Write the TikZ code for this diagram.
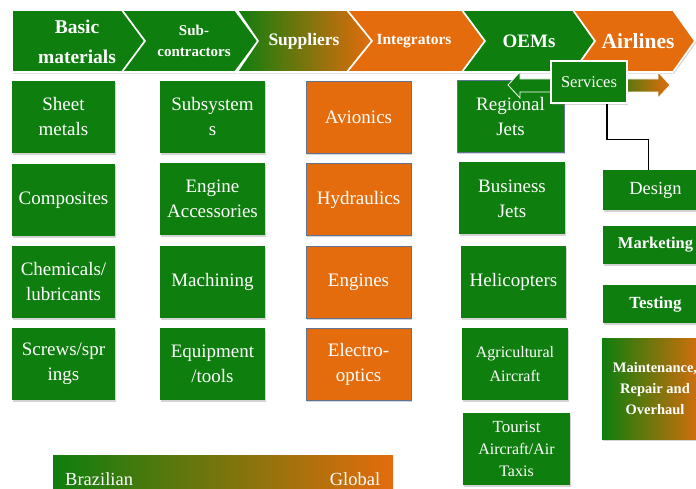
\documentclass[tikz,border=0pt]{standalone}
\usepackage{fontspec}
\setmainfont{Liberation Serif}
\usetikzlibrary{shadows}

\definecolor{grn}{RGB}{14,126,14}
\definecolor{org}{RGB}{228,108,12}
\definecolor{edgeblue}{RGB}{95,115,150}

% green until just past the middle, then into orange
\pgfdeclarehorizontalshading{svcshade}{100bp}{color(0bp)=(grn); color(25bp)=(grn); color(54bp)=(grn); color(75bp)=(org); color(100bp)=(org)}

\begin{document}
\begin{tikzpicture}[x=1pt,y=-1pt,
  softshadow/.style={drop shadow={shadow xshift=1.2pt,shadow yshift=-1.6pt,opacity=.35}},
  chev/.style={draw=white,line width=1.6pt,line join=miter,softshadow},
  chevlab/.style={text=white,align=center,inner sep=0pt},
  box/.style={minimum height=72pt,inner sep=0pt,text=white,align=center,
              font=\fontsize{19}{25}\selectfont,softshadow},
  gbox/.style={box,fill=grn},
  obox/.style={box,fill=org,draw=edgeblue,line width=.6pt},
  sbox/.style={minimum width=105pt,inner sep=0pt,text=white,align=center,softshadow},
  lab/.style={text=white,inner sep=0pt,font=\fontsize{18.5}{22}\selectfont},
]
\useasboundingbox (0,0) rectangle (696,489);
\clip (0,0) rectangle (696,489);

% ---- value chain chevrons ----
\path[chev,fill=grn] (12,10) -- (122,10) -- (145,41) -- (122,72) -- (12,72) -- cycle;
\path[chev,fill=grn] (122,10) -- (235,10) -- (258,41) -- (235,72) -- (122,72) -- (145,41) -- cycle;
\path[chev,left color=grn,right color=org] (237,10) -- (347,10) -- (372,41) -- (347,72) -- (237,72) -- (258,41) -- cycle;
\path[chev,fill=org] (347,10) -- (462,10) -- (485,41) -- (462,72) -- (347,72) -- (372,41) -- cycle;
\path[chev,fill=grn] (462,10) -- (573,10) -- (595,41) -- (573,72) -- (462,72) -- (485,41) -- cycle;
\path[chev,fill=org] (573,10) -- (673,10) -- (695,41) -- (673,72) -- (573,72) -- (595,41) -- cycle;

\node[chevlab,font=\bfseries\fontsize{19.5}{30}\selectfont] (basic) at (77,42) {Basic\\materials};
\node[chevlab,font=\bfseries\fontsize{15}{21}\selectfont] (subc) at (194,41) {Sub-\\contractors};
\node[chevlab,font=\bfseries\fontsize{17.5}{21}\selectfont] (suppl) at (304,41) {Suppliers};
\node[chevlab,font=\bfseries\fontsize{15.5}{21}\selectfont] (integ) at (414,41) {Integrators};
\node[chevlab,font=\bfseries\fontsize{19}{21}\selectfont] (oems) at (529,41) {OEMs};
\node[chevlab,font=\bfseries\fontsize{21.5}{24}\selectfont] (airl) at (638,41) {Airlines};

% ---- basic materials ----
\node[gbox,minimum width=103pt] (sheet) at (63.5,117) {Sheet\\metals};
\node[gbox,minimum width=103pt] (comp) at (63.5,200) {Composites};
\node[gbox,minimum width=103pt] (chem) at (63.5,282) {Chemicals/\\lubricants};
\node[gbox,minimum width=103pt] (screw) at (63.5,364) {Screws/spr\\ings};

% ---- sub-contractors ----
\node[gbox,minimum width=105pt] (subsys) at (212.5,117) {Subsystem\\s};
\node[gbox,minimum width=105pt] (engacc) at (212.5,199) {Engine\\Accessories};
\node[gbox,minimum width=105pt] (mach) at (212.5,282) {Machining};
\node[gbox,minimum width=105pt] (equip) at (212.5,364) {Equipment\\/tools};

% ---- integrators ----
\node[obox,minimum width=105pt] (avio) at (358.5,117) {Avionics};
\node[obox,minimum width=105pt] (hydr) at (358.5,199.5) {Hydraulics};
\node[obox,minimum width=105pt] (engs) at (358.5,282) {Engines};
\node[obox,minimum width=105pt] (elec) at (358.5,364) {Electro-\\optics};

% ---- OEMs ----
\node[gbox,draw=edgeblue,line width=.6pt,minimum width=107pt] (regj) at (510.5,116.5) {Regional\\Jets};
\node[gbox,minimum width=106pt] (busj) at (512,198.5) {Business\\Jets};
\node[gbox,minimum width=105pt] (heli) at (513.5,282) {Helicopters};
\node[gbox,minimum width=106pt,font=\fontsize{16}{24}\selectfont] (agri) at (515,364) {Agricultural\\Aircraft};
\node[gbox,minimum width=107pt,font=\fontsize{16}{22}\selectfont] (tour) at (516.5,449) {{\fontsize{17}{22}\selectfont Tourist}\\Aircraft/Air\\Taxis};

% ---- services ----
\path[shading=svcshade,draw=white,line width=.8pt,line join=miter]
  (508,85) -- (520,72) -- (520,79) -- (658,79) -- (658,72) -- (670,85)
  -- (658,98) -- (658,92) -- (520,92) -- (520,98) -- cycle;
\node[fill=grn,draw=white,line width=1.2pt,minimum width=76pt,minimum height=42pt,
      inner sep=0pt,text=white,font=\fontsize{16.5}{20}\selectfont,softshadow] (svc) at (589,82) {Services};

\node[sbox,fill=grn,minimum height=40pt,font=\fontsize{18.5}{22}\selectfont] (design) at (655.5,190) {Design};
\node[sbox,fill=grn,minimum height=38pt,font=\bfseries\fontsize{16.5}{20}\selectfont] (mkt) at (655.5,245) {Marketing};
\node[sbox,fill=grn,minimum height=38pt,font=\bfseries\fontsize{17}{20}\selectfont] (test) at (655.5,304) {Testing};
\node[sbox,left color=grn,right color=org,minimum width=106pt,minimum height=101pt,
      font=\bfseries\fontsize{14.5}{21}\selectfont] (mro) at (655,388.5) {Maintenance,\\Repair and\\Overhaul};

\draw[line width=1.5pt] ([xshift=18pt]svc.south) -- ++(0,36) -| ([xshift=-7pt]design.north);

% ---- origin scale ----
\node[left color=grn,right color=org,minimum width=340pt,minimum height=42pt,
      inner sep=0pt,anchor=north west] (scale) at (53,455) {};
\node[lab,anchor=west] (braz) at ([xshift=12pt,yshift=-3pt]scale.west) {Brazilian};
\node[lab,anchor=east] (glob) at ([xshift=-13pt,yshift=-3pt]scale.east) {Global};
\end{tikzpicture}
\end{document}
